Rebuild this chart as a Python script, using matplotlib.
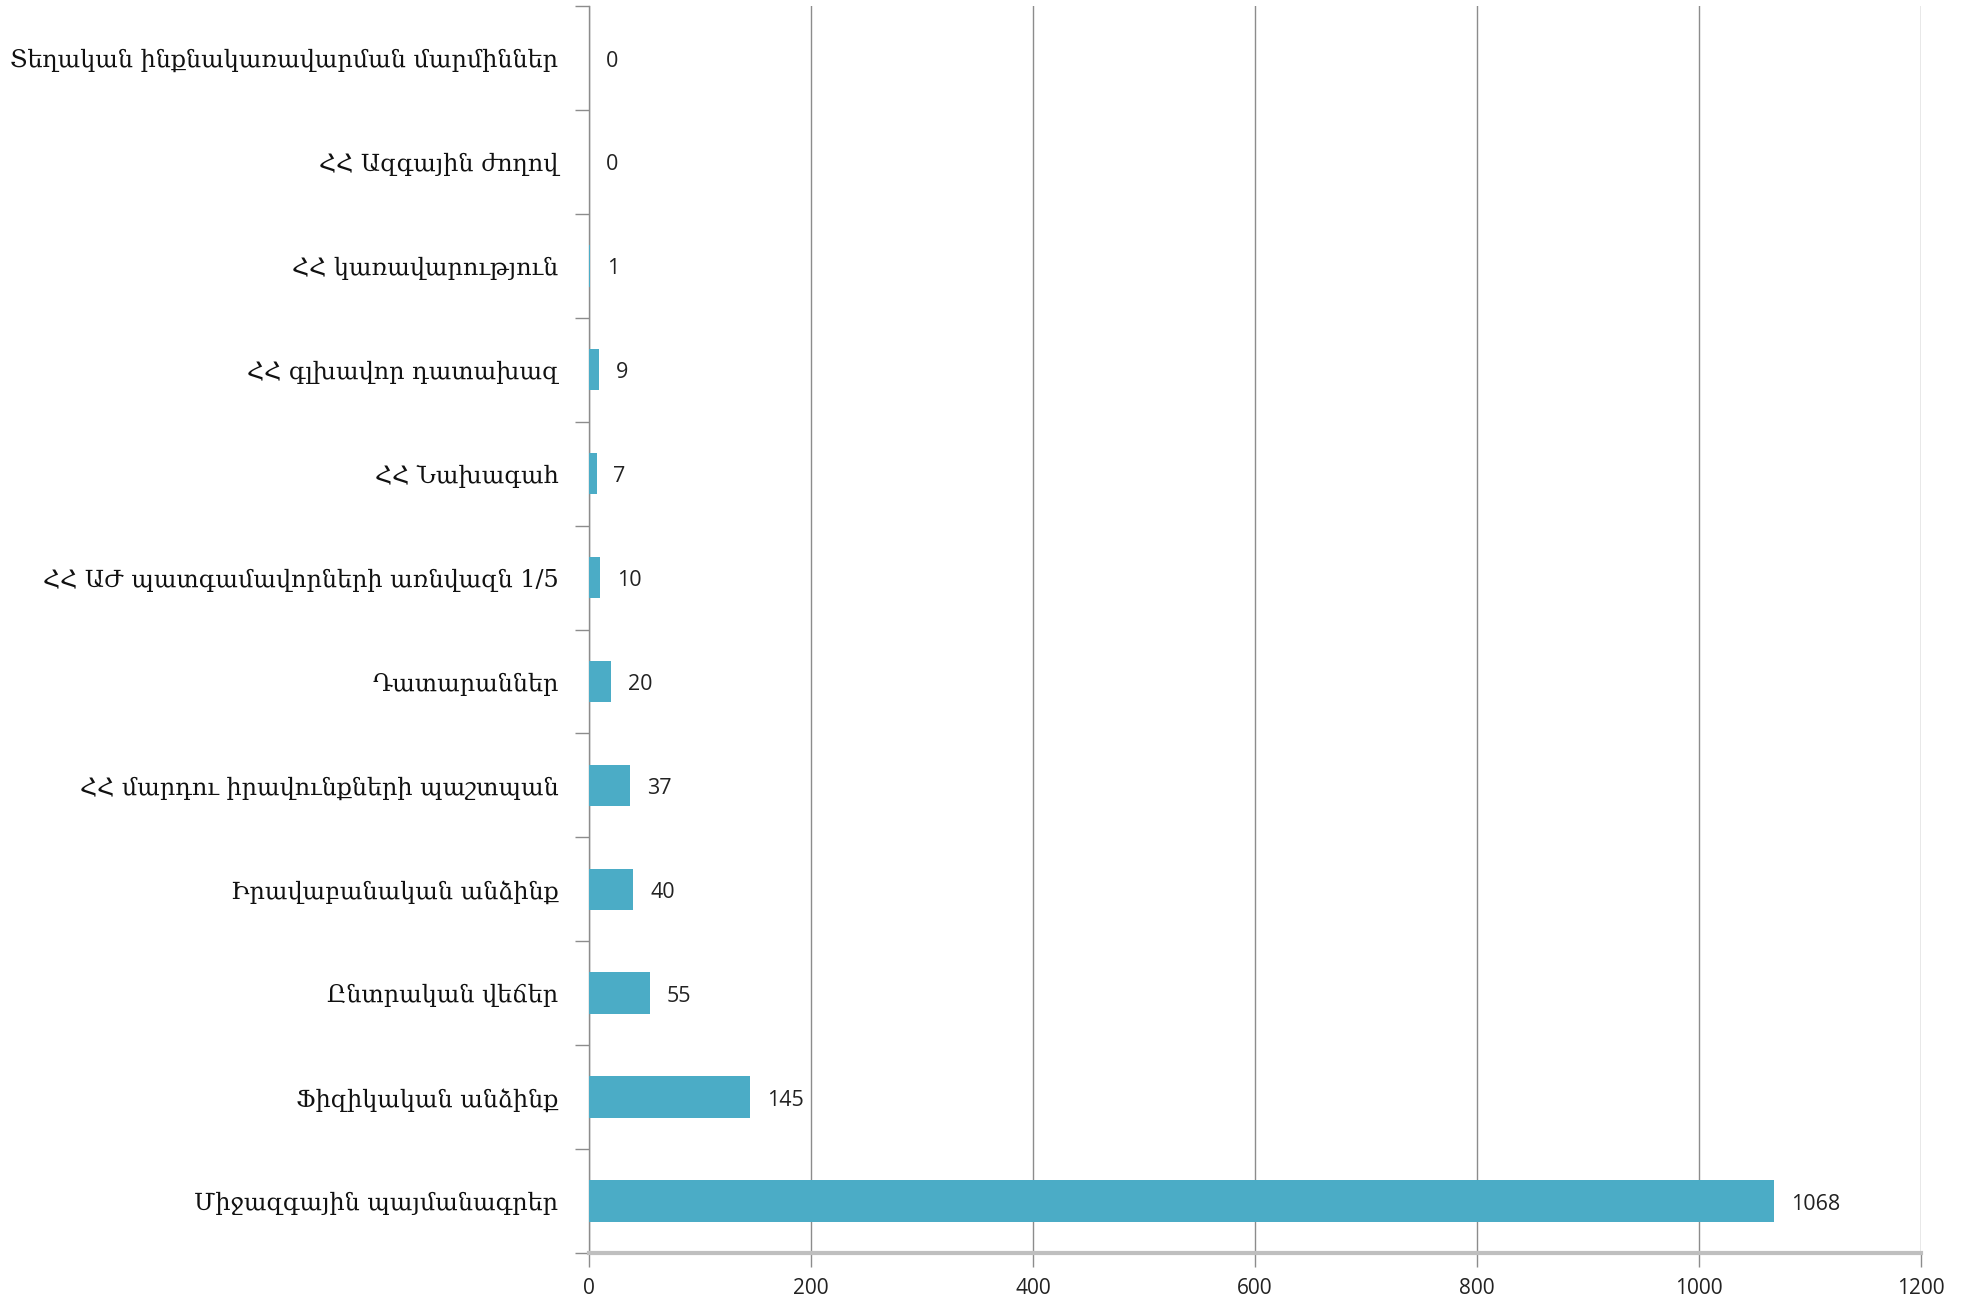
import matplotlib
matplotlib.use("Agg")
import matplotlib.pyplot as plt
from matplotlib.ticker import FixedLocator

categories = [
    "Միջազգային պայմանագրեր",
    "Ֆիզիկական անձինք",
    "Ընտրական վեճեր",
    "Իրավաբանական անձինք",
    "ՀՀ մարդու իրավունքների պաշտպան",
    "Դատարաններ",
    "ՀՀ ԱԺ պատգամավորների առնվազն 1/5",
    "ՀՀ Նախագահ",
    "ՀՀ գլխավոր դատախազ",
    "ՀՀ կառավարություն",
    "ՀՀ Ազգային ժողով",
    "Տեղական ինքնակառավարման մարմիններ",
]
values = [1068, 145, 55, 40, 37, 20, 10, 7, 9, 1, 0, 0]
xticks = [0, 200, 400, 600, 800, 1000, 1200]

W, H = 1973, 1296
fig = plt.figure(figsize=(W / 100, H / 100), dpi=100)
ax = fig.add_axes([589 / W, 1 - 1253 / H, (1921 - 589) / W, (1253 - 6) / H])

bar_color = "#4BACC6"
y = list(range(len(categories)))
ax.barh(y, values, height=0.4, color=bar_color, linewidth=0, zorder=3)

ax.set_xlim(0, 1200)
ax.set_ylim(-0.5, len(categories) - 0.5)
ax.xaxis.set_major_locator(FixedLocator(xticks))
ax.set_xticklabels([str(t) for t in xticks], fontsize=15, color="#222222",
                   family=["Open Sans", "DejaVu Sans"])
ax.grid(axis="x", color="#8C8C8C", linewidth=1.0, zorder=0)

ax.set_yticks(y)
ax.set_yticklabels(categories, fontsize=17.2, family=["DejaVu Serif", "DejaVu Sans"], color="#111111")
ax.tick_params(axis="y", length=0, pad=22)
ax.yaxis.set_minor_locator(FixedLocator([i - 0.5 for i in range(len(categories) + 1)]))
ax.tick_params(axis="y", which="minor", length=10, color="#8C8C8C", width=1.0)
ax.tick_params(axis="x", length=10, color="#8C8C8C", width=1.0, pad=8)

for s in ["top", "right"]:
    ax.spines[s].set_visible(False)
ax.spines["left"].set_color("#8C8C8C")
ax.spines["left"].set_linewidth(1.0)
ax.spines["bottom"].set_color("#BFBFBF")
ax.spines["bottom"].set_linewidth(3)

for yi, v in zip(y, values):
    ax.text(v + 15, yi - 0.03, str(v), va="center", ha="left", fontsize=15.5,
            family=["Open Sans", "DejaVu Sans"], color="#222222")

fig.savefig("out.png", dpi=100, facecolor="white")
